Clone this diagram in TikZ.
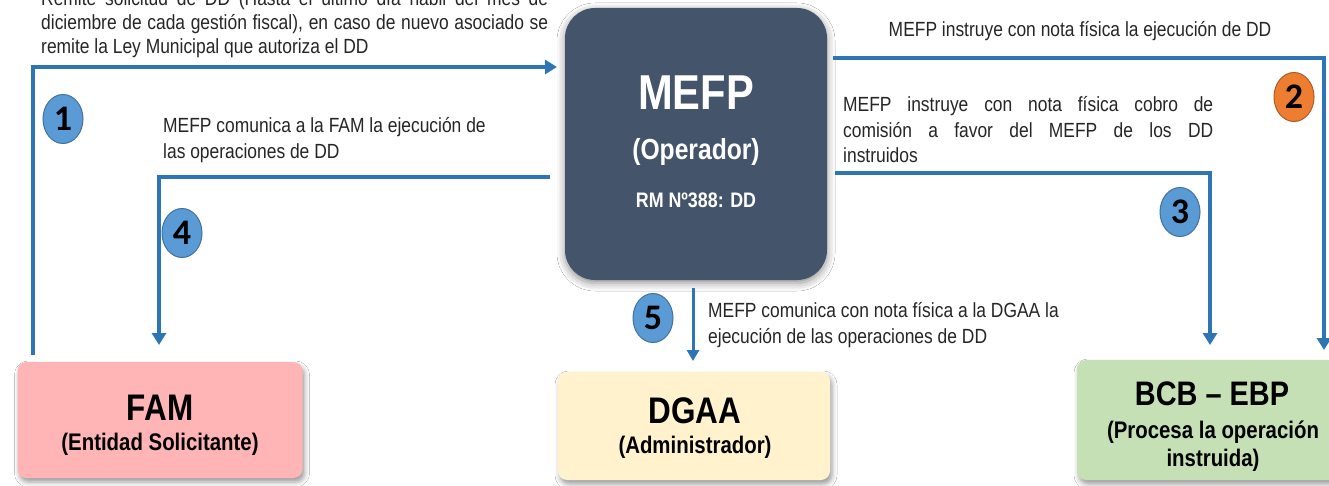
\documentclass[tikz,border=0pt]{standalone}
\usepackage{fontspec}
\setmainfont{Liberation Sans}[FakeStretch=0.85]
\newfontfamily\numfont{Carlito}
\usetikzlibrary{arrows.meta,shadows.blur,shapes.geometric}
\definecolor{arrblue}{HTML}{2E75B6}
\definecolor{numblue}{HTML}{5B9BD5}
\definecolor{numblueedge}{HTML}{41719C}
\definecolor{numorange}{HTML}{ED7D31}
\definecolor{numorangeedge}{HTML}{AE5A21}
\definecolor{mefpfill}{HTML}{44546A}
\definecolor{famfill}{HTML}{FFB5B5}
\definecolor{dgaafill}{HTML}{FFF2CC}
\definecolor{bcbfill}{HTML}{C5E0B4}
\definecolor{txtc}{HTML}{262626}
\newcommand\bodyfs{\fontsize{20.5}{24}\selectfont}
\begin{document}
\begin{tikzpicture}[x=1pt,y=-1pt,
  txt/.style={anchor=base west, inner sep=0pt, text=txtc, font=\bodyfs},
  arr/.style={draw=arrblue, line width=4pt, -{Triangle[width=14pt,length=12pt]}},
  arrthin/.style={draw=arrblue, line width=3pt, -{Triangle[width=12pt,length=11pt]}},
  numbadge/.style={ellipse, minimum width=40pt, minimum height=49pt, inner sep=0pt,
     line width=1pt, font=\numfont\bfseries\fontsize{36}{36}\selectfont, text=black},
  bluebadge/.style={numbadge, fill=numblue, draw=numblueedge},
  orangebadge/.style={numbadge, fill=numorange, draw=numorangeedge},
  lowbox/.style={rectangle, rounded corners=9pt, inner sep=0pt, outer sep=0pt,
     blur shadow={shadow xshift=2pt, shadow yshift=-4pt, shadow blur radius=5pt, shadow opacity=40}},
  boxtitle/.style={anchor=base, inner sep=0pt, text=black, font=\bfseries\fontsize{37}{37}\selectfont},
  boxsub/.style={anchor=base, inner sep=0pt, text=black, font=\bfseries\fontsize{24}{24}\selectfont}
]
\clip (0,0) rectangle (1329,486);
\useasboundingbox (0,0) rectangle (1329,486);
\fill[white] (0,0) rectangle (1329,486);

% main box
\node[rectangle, rounded corners=30pt, fill=mefpfill, inner sep=0pt, outer sep=0pt,
  minimum width=262pt, minimum height=272pt,
  blur shadow={shadow xshift=0pt, shadow yshift=-3pt, shadow blur radius=8pt, shadow opacity=45}]
  (mefp) at (696,144) {};
\node[anchor=base, inner sep=0pt, text=white, font=\bfseries\fontsize{49}{49}\selectfont] (mefpA) at (696,110) {MEFP};
\node[anchor=base, inner sep=0pt, text=white, font=\bfseries\fontsize{29}{29}\selectfont] (mefpB) at (696,160) {(Operador)};
\node[anchor=base, inner sep=0pt, text=white, font=\bfseries\fontsize{21}{21}\selectfont] (mefpC) at (696,208) {RM Nº388: DD};

% lower boxes
\node[lowbox, fill=famfill, minimum width=285pt, minimum height=116pt] (fam) at (160,420) {};
\node[boxtitle] (famA) at (160,420) {FAM};
\node[boxsub] (famB) at (160,450) {(Entidad Solicitante)};

\node[lowbox, fill=dgaafill, minimum width=272pt, minimum height=108pt] (dgaa) at (694,426) {};
\node[boxtitle] (dgaaA) at (695,423) {DGAA};
\node[boxsub] (dgaaB) at (695,453) {(Administrador)};

\node[lowbox, fill=bcbfill, minimum width=272pt, minimum height=120pt] (bcb) at (1213,420) {};
\node[boxtitle, font=\bfseries\fontsize{34}{34}\selectfont] (bcbA) at (1212,405) {BCB – EBP};
\node[boxsub] (bcbB) at (1213,438) {(Procesa la operación};
\node[boxsub] (bcbC) at (1213,466) {instruida)};

% connectors
\draw[arr] ([xshift=15pt,yshift=7pt]fam.north west) |- ([xshift=-8pt,yshift=-59pt]mefp.north west);
\draw[arr] ([xshift=-15pt,yshift=-169pt]mefp.north west) -| ([xshift=141.5pt,yshift=17pt]fam.north west);
\draw[arr] ([xshift=6pt,yshift=-50pt]mefp.north east) -| ([xshift=247pt,yshift=10pt]bcb.north west);
\draw[arr] ([xshift=8pt,yshift=-165pt]mefp.north east) -| ([xshift=133pt,yshift=15pt]bcb.north west);
\draw[arrthin] ([xshift=-3pt,yshift=-8pt]mefp.south) -- ([xshift=135pt,yshift=11pt]dgaa.north west);

% labels
\node[txt] (p1a) at (41,6) {\makebox[507pt][s]{Remite solicitud de DD (Hasta el último día hábil del mes de}};
\node[txt] (p1b) at (41,30) {\makebox[507pt][s]{diciembre de cada gestión fiscal), en caso de nuevo asociado se}};
\node[txt] (p1c) at (41,54) {remite la Ley Municipal que autoriza el DD};

\node[txt, anchor=base] (p2) at (1080,37) {MEFP instruye con nota física la ejecución de DD};

\node[txt] (p3a) at (843,112) {\makebox[370pt][s]{MEFP instruye con nota física cobro de}};
\node[txt] (p3b) at (843,138) {\makebox[370pt][s]{comisión a favor del MEFP de los DD}};
\node[txt] (p3c) at (843,163) {instruidos};

\node[txt] (p4a) at (163,133) {MEFP comunica a la FAM la ejecución de};
\node[txt] (p4b) at (163,159) {las operaciones de DD};

\node[txt] (p5a) at (708,317) {MEFP comunica con nota física a la DGAA la};
\node[txt] (p5b) at (708,343) {ejecución de las operaciones de DD};

% badges
\node[bluebadge] (n1) at (63,119) {1};
\node[orangebadge] (n2) at (1294,97) {2};
\node[bluebadge] (n3) at (1180,212) {3};
\node[bluebadge] (n4) at (182,233) {4};
\node[bluebadge] (n5) at (653,318) {5};
\end{tikzpicture}
\end{document}
